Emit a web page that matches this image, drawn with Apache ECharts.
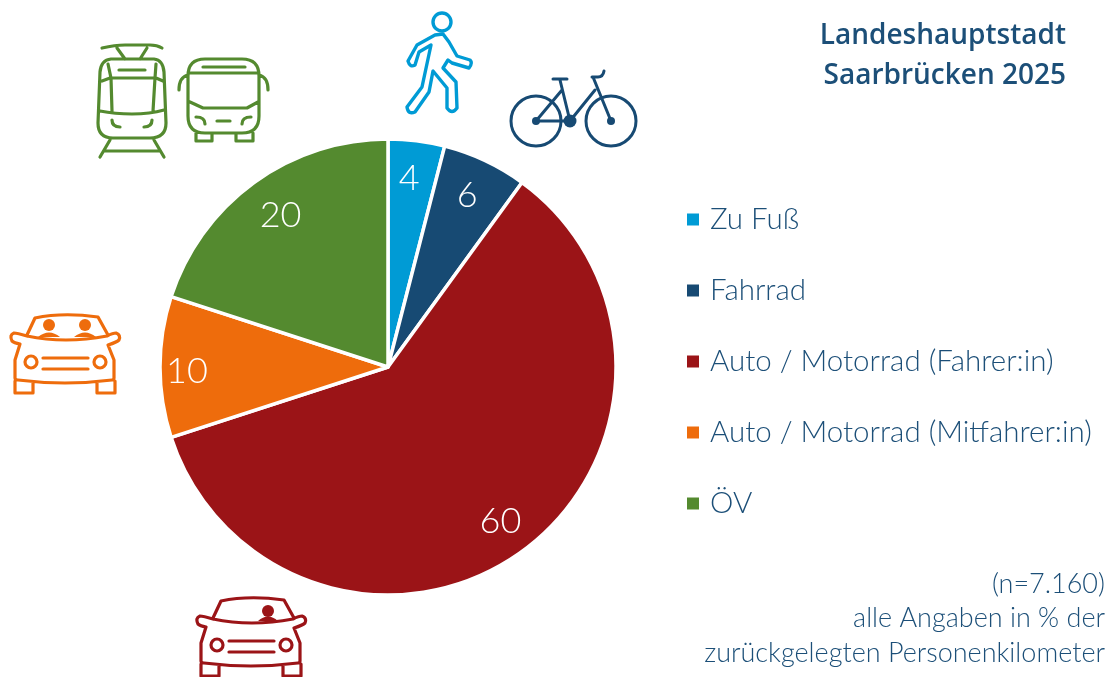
<!DOCTYPE html>
<html>
<head>
<meta charset="utf-8">
<style>
  html, body { margin: 0; padding: 0; background: #fff; }
  #chart { width: 1113px; height: 677px; }
</style>
</head>
<body>
<div id="chart"></div>
<script src="https://cdn.jsdelivr.net/npm/echarts@6/dist/echarts.min.js"></script>
<script>
const categories = ['Zu Fuß', 'Fahrrad', 'Auto / Motorrad (Fahrer:in)', 'Auto / Motorrad (Mitfahrer:in)', 'ÖV'];
const shares = [4, 6, 60, 10, 20];
const sliceColors = ['#009bd5', '#174a73', '#9b1417', '#ee6c0c', '#548a2f'];
const titleLines = ['Landeshauptstadt', 'Saarbrücken 2025'];
const noteLines = ['(n=7.160)', 'alle Angaben in % der', 'zurückgelegten Personenkilometer'];

const textColor = '#1c4f78';
const fontName = 'Lato';
const pieX = 388, pieY = 367, pieR = 228;
// small label corrections, same order as categories
const labelNudges = [[-3, 3], [-3, 3], [-1, -2], [-8, 4], [6, 5]];

// car outline, shared by the orange and the red one
const carBody = 'M27,335 L35,318 Q63,312 98,317 L108,335 M27,336 Q65,344 107,336 Q113,333 116,333 Q121,335 119,340 Q117,342 108,345 L114,360 L114,378 Q114,380 112,380 Q65,386 18,380 Q15,380 15,378 L15,360 L20,344 Q14,343 12,341 Q9,335 14,333 Q17,333 27,336 ' +
  'M15,381 L15,393 L33,393 L33,383 M97,383 L97,393 L115,393 L115,381 M43,358 L88,358 M43,369 L88,369';
const tramPath = 'M102,48 Q115,45 125,45 L150,45 Q157,45 162,48 M117,48 L125,59 M147,48 L140,59 ' +
  'M111,59 L154,59 Q163,60 164,72 L166,123 Q166,138 150,138 L113,138 Q98,138 98,123 L100,72 Q101,60 111,59 Z ' +
  'M119,70 L145,70 M102,81 L110,78 L156,78 L163,81 M108,64 L111,78 L112,111 M156,64 L155,78 L153,111 ' +
  'M100,111 Q115,114 132,114 Q150,114 164,110 M112,120 Q112,127 120,127 M152,120 Q152,127 144,127 ' +
  'M110,140 L100,157 M154,140 L164,157 M105,151 L159,151';
const busPath = 'M205,59 L242,59 Q259,59 259,76 L259,116 Q259,133 242,133 L205,133 Q188,133 188,116 L188,76 Q188,59 205,59 Z ' +
  'M203,67 L245,67 M188,73 L259,73 M188,75 Q179,77 179,90 M259,75 Q268,77 268,90 ' +
  'M190,102 L203,108 L247,108 L258,102 M196,117 Q205,117 205,124 M251,117 Q242,117 242,124 M217,121 L230,121 ' +
  'M196,133 L196,141 L212,141 L212,133 M236,133 L236,141 L253,141 L253,133';
const walkerPath = 'M435,35 L443,34 L449,42 L457,56 L470,60 Q473,63 469,68 L452,63 L448,60 L443,68 L456,82 L457,108 Q452,115 447,108 L447,88 L433,71 L429,92 L415,112 Q408,115 407,107 L422,87 L431,45 L419,52 L415,65 Q410,68 408,61 L417,45 Z';
const bikePath = 'M536,121 L570,121 L560,80 M562,90 L536,121 M595,90 L570,121 M593,77 L611,121 M553,79 L567,79 M592,77 L598,77 Q603,77 604,71';
const shoulderPaths = {
  orangeLeft: 'M38,337 Q49,328 60,337 Z',
  orangeRight: 'M74,337 Q85,328 96,337 Z',
  redDriver: 'M258,621 Q268,612 278,621 Z'
};

// graphic has no plain path type, so every icon path gets registered as a shape
function register(name, pathData) {
  echarts.graphic.registerShape(name, echarts.graphic.extendPath(pathData));
}
register('tramIcon', tramPath);
register('busIcon', busPath);
register('walkerIcon', walkerPath);
register('bikeIcon', bikePath);
register('carIcon', carBody);
Object.keys(shoulderPaths).forEach(k => register(k, shoulderPaths[k]));

function outline(type, color, width, dx, dy) {
  return {
    type: type, x: dx || 0, y: dy || 0,
    style: { fill: null, stroke: color, lineWidth: width, lineCap: 'round', lineJoin: 'round' }
  };
}
function ring(cx, cy, r, color, width) {
  return { type: 'circle', shape: { cx: cx, cy: cy, r: r }, style: { fill: null, stroke: color, lineWidth: width } };
}
function dot(cx, cy, r, color) {
  return { type: 'circle', shape: { cx: cx, cy: cy, r: r }, style: { fill: color } };
}

const blue = sliceColors[0], navy = sliceColors[1], red = sliceColors[2], orange = sliceColors[3], green = sliceColors[4];

const icons = [
  outline('tramIcon', green, 3.2),
  outline('busIcon', green, 3.2),
  ring(442, 22, 9, blue, 3.4),
  outline('walkerIcon', blue, 3.4),
  ring(536, 121, 25, navy, 3),
  ring(611, 121, 25, navy, 3),
  outline('bikeIcon', navy, 3),
  dot(570, 121, 6.5, navy), dot(536, 121, 4, navy), dot(611, 121, 4, navy),
  // orange car, two people
  outline('carIcon', orange, 3.2),
  ring(31, 362, 6, orange, 3.2), ring(100, 362, 6, orange, 3.2),
  dot(49, 325, 6, orange), dot(85, 325, 6, orange),
  { type: 'orangeLeft', style: { fill: orange } },
  { type: 'orangeRight', style: { fill: orange } },
  // red car, only the driver
  outline('carIcon', red, 3.2, 186, 283),
  ring(217, 645, 6, red, 3.2), ring(286, 645, 6, red, 3.2),
  dot(268, 611, 6, red),
  { type: 'redDriver', style: { fill: red } }
];

const titleTexts = titleLines.map((line, i) => ({
  type: 'text', x: 1066, y: 36 + i * 40,
  style: { text: line, align: 'right', verticalAlign: 'middle', fill: textColor, font: '600 28px "Open Sans"' }
}));
const noteTexts = noteLines.map((line, i) => ({
  type: 'text', x: 1105, y: 584 + i * 34.5,
  style: { text: line, align: 'right', verticalAlign: 'middle', fill: textColor, font: `300 27px ${fontName}` }
}));

const chart = echarts.init(document.getElementById('chart'), null, { renderer: 'canvas' });
chart.setOption({
  animation: false,
  backgroundColor: '#fff',
  legend: {
    orient: 'vertical', left: 680, top: 199.5,
    itemWidth: 14, itemHeight: 14, itemGap: 41,
    icon: 'rect', selectedMode: false,
    data: categories,
    textStyle: { color: textColor, fontFamily: fontName, fontWeight: 300, fontSize: 29.5, padding: [0, 0, 0, 5] }
  },
  graphic: icons.concat(titleTexts, noteTexts),
  series: [
    {
      type: 'pie',
      center: [pieX, pieY],
      radius: [0, pieR],
      startAngle: 90,
      silent: true,
      data: categories.map((name, i) => ({ name: name, value: shares[i], itemStyle: { color: sliceColors[i] } })),
      itemStyle: { borderColor: '#fff', borderWidth: 3.5 },
      label: { show: false },
      labelLine: { show: false }
    },
    {
      // clear ring on top, only there to hold the value labels near the rim
      type: 'pie',
      center: [pieX, pieY],
      radius: [152, pieR],
      startAngle: 90,
      silent: true,
      data: categories.map((name, i) => ({
        name: name,
        value: shares[i],
        label: { offset: labelNudges[i] }
      })),
      itemStyle: { color: 'rgba(0,0,0,0)', borderWidth: 0 },
      label: { position: 'inside', formatter: '{c}', color: '#fff', fontFamily: fontName, fontWeight: 300, fontSize: 36 },
      labelLine: { show: false }
    }
  ]
});
</script>
</body>
</html>
